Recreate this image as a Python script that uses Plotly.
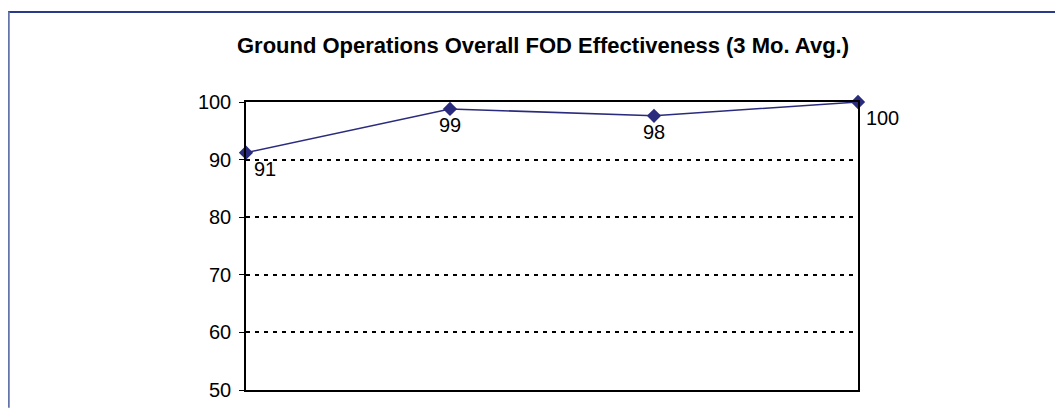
import plotly.graph_objects as go

periods = ["Period 1", "Period 2", "Period 3", "Period 4"]
effectiveness = [91.2, 98.8, 97.6, 100.0]
labels = ["91", "99", "98", "100"]
label_pos = ["bottom right", "bottom center", "bottom center", "bottom right"]

# page body has an 8px margin, so the figure is drawn 8px smaller and offset
OFF = 8
W, H = 1063 - OFF, 413 - OFF
L, R, T, B = 246 - OFF, 205, 102 - OFF, 18
pw, ph = W - L - R, H - T - B


def px_x(p):
    return (p - OFF - L) / pw


def px_y(p):
    return (H - B - (p - OFF)) / ph


fig = go.Figure()

fig.add_trace(
    go.Scatter(
        x=periods,
        y=effectiveness,
        mode="lines+markers+text",
        text=labels,
        textposition=label_pos,
        textfont=dict(size=20, color="black"),
        line=dict(color="#2b2b7e", width=1.5),
        marker=dict(symbol="diamond", size=11, color="#2b2b7e"),
        cliponaxis=False,
        showlegend=False,
    )
)

fig.update_xaxes(
    type="category",
    range=[0, 3],
    showticklabels=False,
    showgrid=False,
    showline=True,
    linewidth=1.5,
    linecolor="black",
    mirror=True,
    ticks="",
)
fig.update_yaxes(
    range=[50, 100],
    dtick=10,
    showline=True,
    linewidth=1.5,
    linecolor="black",
    mirror=True,
    ticks="outside",
    ticklen=5,
    tickcolor="black",
    tickfont=dict(size=20, color="black"),
    ticklabelstandoff=4,
    showgrid=True,
    gridcolor="black",
    gridwidth=1.5,
    griddash="4px,5px",
    zeroline=False,
)

# outer frame of the original slide
fig.add_shape(type="line", xref="paper", yref="paper",
              x0=px_x(7), x1=px_x(1063), y0=px_y(10.5), y1=px_y(10.5),
              line=dict(color="#2a3a8a", width=2))
fig.add_shape(type="line", xref="paper", yref="paper",
              x0=px_x(8.5), x1=px_x(8.5), y0=px_y(10), y1=px_y(413),
              line=dict(color="#6474a8", width=2.5))

fig.update_layout(
    title=dict(
        text="<b>Ground Operations Overall FOD Effectiveness (3 Mo. Avg.)</b>",
        x=px_x(543),
        xref="paper",
        xanchor="center",
        y=1 - (45 - OFF) / H,
        yanchor="middle",
        font=dict(family="Liberation Sans, Arial", size=22, color="black"),
    ),
    font=dict(family="Liberation Sans, Arial", color="black"),
    width=W,
    height=H,
    margin=dict(l=L, r=R, t=T, b=B),
    template="plotly_white",
    plot_bgcolor="white",
    paper_bgcolor="white",
)

fig.write_html("out.html")
